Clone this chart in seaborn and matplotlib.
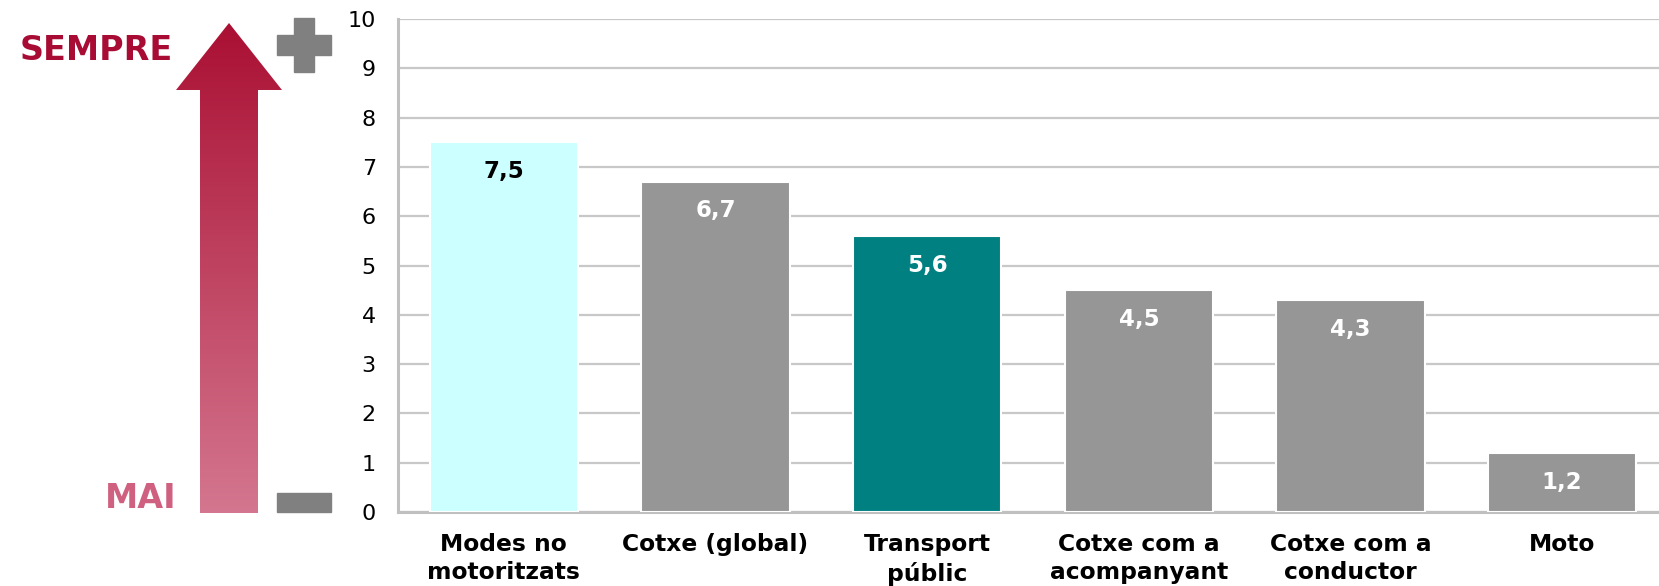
import seaborn as sns
import pandas as pd
import matplotlib.pyplot as plt
import numpy as np
from matplotlib.patches import Polygon, Rectangle
from matplotlib.colors import LinearSegmentedColormap

categories = ['Modes no\nmotoritzats', 'Cotxe (global)', 'Transport\npúblic',
              'Cotxe com a\nacompanyant', 'Cotxe com a\nconductor', 'Moto']
values = [7.5, 6.7, 5.6, 4.5, 4.3, 1.2]
bar_colors = ['#CCFFFF', '#969696', '#008080', '#969696', '#969696', '#969696']
label_colors = ['black', 'white', 'white', 'white', 'white', 'white']

df = pd.DataFrame({'Mode': categories, 'Score': values})

sns.set_style('white')
plt.rcParams['font.family'] = ['DejaVu Sans']

W, H = 1659, 586
fig = plt.figure(figsize=(W / 100, H / 100), dpi=100)

# main bar chart
ax = fig.add_axes([398 / W, 74 / H, 1270 / W, 493 / H])
sns.barplot(data=df, x='Mode', y='Score', hue='Mode', palette=bar_colors,
            width=0.7, edgecolor='white', linewidth=1.5, legend=False,
            saturation=1, ax=ax, zorder=3)

ax.set_ylim(0, 10)
ax.set_yticks(range(0, 11))
ax.yaxis.grid(True, color='#C8C8C8', linewidth=1.6, zorder=0)
ax.set_axisbelow(True)
for s in ['top', 'right']:
    ax.spines[s].set_visible(False)
for s in ['left', 'bottom']:
    ax.spines[s].set_color('#C0C0C0')
    ax.spines[s].set_linewidth(2.2)
ax.tick_params(axis='y', length=0, pad=16, labelsize=16, colors='black')
ax.tick_params(axis='x', length=0, pad=15, labelsize=16.8, colors='black')
for lab in ax.get_xticklabels():
    lab.set_fontweight('bold')
    lab.set_linespacing(1.3)
ax.set_xlabel('')
ax.set_ylabel('')

for i, (v, c) in enumerate(zip(values, label_colors)):
    ax.annotate(f'{v:.1f}'.replace('.', ','), (i, v), xytext=(0, -21),
                textcoords='offset points', ha='center', va='center',
                fontsize=16.5, fontweight='bold', color=c, zorder=5)

# left decoration: gradient arrow with SEMPRE / MAI and +/- signs
deco = fig.add_axes([0, 0, 1, 1], zorder=-1)
deco.set_xlim(0, W)
deco.set_ylim(H, 0)
deco.axis('off')

arrow = Polygon([(229, 23), (282, 90), (258, 90), (258, 513), (200, 513),
                 (200, 90), (176, 90)], closed=True, transform=deco.transData,
                facecolor='none', edgecolor='none')
deco.add_patch(arrow)
cmap = LinearSegmentedColormap.from_list('arr', ['#AA1033', '#D4768F'])
grad = np.linspace(0, 1, 256).reshape(-1, 1)
img = deco.imshow(grad, cmap=cmap, extent=[176, 282, 513, 23], aspect='auto')
img.set_clip_path(arrow)
deco.set_xlim(0, W)
deco.set_ylim(H, 0)

deco.add_patch(Rectangle((277, 35), 54, 20, color='#808080'))
deco.add_patch(Rectangle((294, 18), 20, 54, color='#808080'))
deco.add_patch(Rectangle((277, 493), 54, 19, color='#808080'))

deco.text(173, 51, 'SEMPRE', ha='right', va='center', fontsize=24,
          fontweight='bold', color='#A80C35')
deco.text(177, 499, 'MAI', ha='right', va='center', fontsize=24,
          fontweight='bold', color='#D06080')

fig.savefig('out.png', dpi=100)
